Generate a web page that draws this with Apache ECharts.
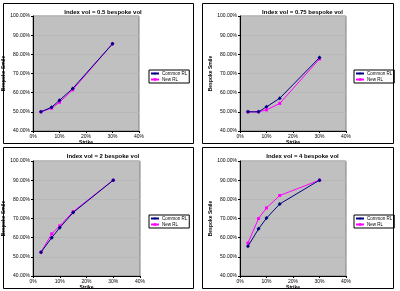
<!DOCTYPE html>
<html>
<head>
<meta charset="utf-8">
<script src="https://cdn.jsdelivr.net/npm/echarts@6/dist/echarts.min.js"></script>
<style>
  html, body { margin: 0; padding: 0; background: #fff; }
  #chart { width: 400px; height: 291px; }
</style>
</head>
<body>
<div id="chart"></div>
<script>
// strikes in %, implied values in %
const strikes = [3, 7, 10, 15, 30];
const titles = [
	"Index vol = 0.5 bespoke vol",
	"Index vol = 0.75 bespoke vol",
	"Index vol = 2 bespoke vol",
	"Index vol = 4 bespoke vol",
];
const commonRL = [
	[50.0, 52.4, 56.0, 62.2, 85.5],
	[50.0, 50.0, 52.6, 57.1, 78.3],
	[52.4, 60.0, 65.2, 73.1, 90.0],
	[55.5, 64.6, 70.2, 77.6, 90.0],
];
const newRL = [
	[50.0, 51.9, 55.0, 61.5, 85.5],
	[50.0, 50.0, 51.0, 54.4, 77.6],
	[52.4, 62.0, 66.2, 73.6, 90.0],
	[57.2, 70.0, 75.5, 82.0, 90.0],
];
const xTicks = [0, 10, 20, 30, 40];
const yTicks = [40, 50, 60, 70, 80, 90, 100];

// panel layout: plot areas, frames and legends
const grids = [
	{ left: 33, top: 16, width: 106, height: 115 },
	{ left: 240, top: 16, width: 106, height: 115 },
	{ left: 33, top: 161, width: 107, height: 117 },
	{ left: 240, top: 161, width: 106, height: 117 },
];
const frames = [
	[3, 3, 190, 140],
	[202, 3, 191, 140],
	[3, 147, 190, 141],
	[202, 147, 191, 141],
];
const legendPos = [
	[149, 70],
	[354, 70],
	[149, 215],
	[354, 215],
];

const chart = echarts.init(document.getElementById("chart"));

const labelFont = { fontSize: 5, color: "#000", fontFamily: "Liberation Sans" };

const option = {
	backgroundColor: "#fff",
	animation: false,
	title: titles.map((t, i) => ({
		text: t,
		left: frames[i][0] + frames[i][2] / 2,
		top: frames[i][1] + 1,
		textAlign: "center",
		textStyle: { fontSize: 6, fontWeight: "bold", fontFamily: "Liberation Sans", color: "#000" },
	})),
	graphic: frames.map((f) => ({
		type: "rect",
		shape: { x: f[0] + 0.5, y: f[1] + 0.5, width: f[2], height: f[3] },
		style: { fill: "none", stroke: "#000", lineWidth: 1 },
		z: 100,
	})),
	legend: legendPos.map((p) => ({
		left: p[0],
		top: p[1],
		orient: "vertical",
		data: ["Common RL", "New RL"],
		itemWidth: 8,
		itemHeight: 3,
		itemGap: 1,
		padding: [1, 2, 1, 1],
		borderColor: "#000",
		borderWidth: 1,
		backgroundColor: "#fff",
		textStyle: { fontSize: 4.5, fontFamily: "Liberation Sans", color: "#000", padding: [0, 0, 0, -2] },
	})),
	grid: grids.map((g) => ({
		left: g.left,
		top: g.top,
		width: g.width,
		height: g.height,
		show: true,
		backgroundColor: "#c0c0c0",
		borderColor: "#808080",
		borderWidth: 1,
	})),
	xAxis: grids.map((g, i) => ({
		type: "value",
		gridIndex: i,
		min: xTicks[0],
		max: xTicks[xTicks.length - 1],
		interval: 10,
		name: "Strike",
		nameLocation: "middle",
		nameGap: 9,
		nameTextStyle: { fontSize: 5, fontWeight: "bold", fontFamily: "Liberation Sans", color: "#000" },
		axisLine: { lineStyle: { color: "#000" } },
		axisTick: { show: true, length: 2, lineStyle: { color: "#000" } },
		axisLabel: { ...labelFont, margin: 3, formatter: "{value}%" },
		splitLine: { show: false },
	})),
	yAxis: grids.map((g, i) => ({
		type: "value",
		gridIndex: i,
		min: yTicks[0],
		max: yTicks[yTicks.length - 1],
		interval: 10,
		name: "Bespoke Smile",
		nameLocation: "middle",
		nameGap: 26,
		nameTextStyle: { fontSize: 5, fontWeight: "bold", fontFamily: "Liberation Sans", color: "#000" },
		axisLine: { show: true, lineStyle: { color: "#000" } },
		axisTick: { show: true, length: 2, lineStyle: { color: "#000" } },
		axisLabel: { ...labelFont, margin: 3, formatter: (v) => v.toFixed(2) + "%" },
		splitLine: { show: true, lineStyle: { color: "#b8b8b8", width: 1 } },
	})),
	series: [],
};

for (let i = 0; i < 4; i++) {
	option.series.push({
		name: "Common RL",
		type: "line",
		xAxisIndex: i,
		yAxisIndex: i,
		data: strikes.map((s, k) => [s, commonRL[i][k]]),
		symbol: "diamond",
		symbolSize: 4,
		color: "#000080",
		lineStyle: { width: 1, color: "#000080" },
		itemStyle: { color: "#000080" },
		z: 3,
	});
	option.series.push({
		name: "New RL",
		type: "line",
		xAxisIndex: i,
		yAxisIndex: i,
		data: strikes.map((s, k) => [s, newRL[i][k]]),
		symbol: "rect",
		symbolSize: 3,
		color: "#ff00ff",
		lineStyle: { width: 1, color: "#ff00ff" },
		itemStyle: { color: "#ff00ff" },
		z: 2,
	});
}

chart.setOption(option);
</script>
</body>
</html>
